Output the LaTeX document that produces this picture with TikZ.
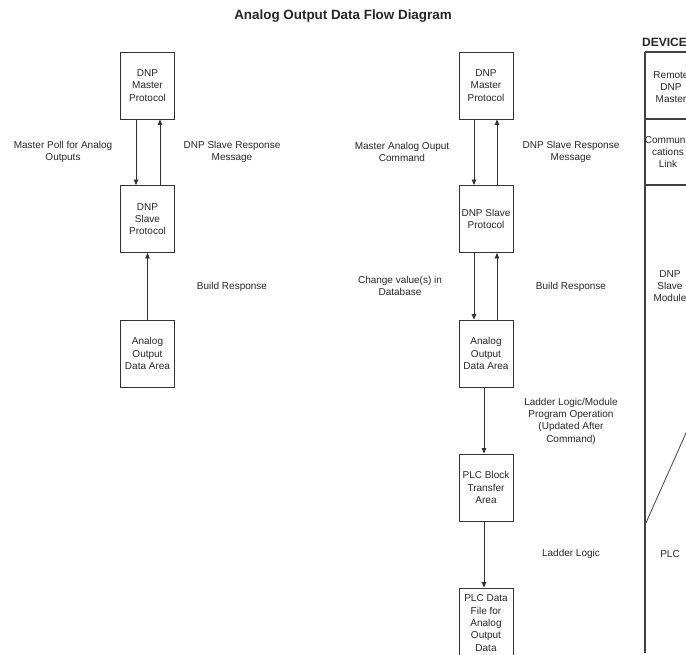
\documentclass[tikz,border=0pt]{standalone}
\usepackage{fontspec}
\setmainfont{Liberation Sans}
\usetikzlibrary{arrows.meta}

\begin{document}
\begin{tikzpicture}[x=1pt, y=-1pt, font=\fontsize{10}{12.3}\selectfont,
    every node/.style={text=black!85},
    block/.style={draw=black!80, line width=0.9pt, minimum width=54pt,
      minimum height=67pt, inner sep=1pt, align=center},
    flow/.style={draw=black!80, line width=0.8pt, -{Triangle[length=5.5pt,width=4.5pt]}},
    note/.style={align=center},
    rule/.style={draw=black!75, line width=1.2pt}]
  \useasboundingbox (0,0) rectangle (686,654);
  \clip (0,0) rectangle (686,654);

  \node[font=\fontsize{13.4}{15}\selectfont\bfseries] (title) at (343,16) {Analog Output Data Flow Diagram};

  % poll column
  \node[block] (pmaster) at (147.5,85.5) {DNP\\Master\\Protocol};
  \node[block] (pslave) at (147.5,219) {DNP\\Slave\\Protocol};
  \node[block] (parea) at (147.5,353.5) {Analog\\Output\\Data Area};

  \draw[flow] ([xshift=-11.5pt]pmaster.south) -- ([xshift=-11.5pt]pslave.north);
  \draw[flow] ([xshift=12.5pt]pslave.north) -- ([xshift=12.5pt]pmaster.south);
  \draw[flow] (parea) -- (pslave);

  \node[note] (ppoll) at (63,152) {Master Poll for Analog\\Outputs};
  \node[note] (presp) at (232,152) {DNP Slave Response\\Message};
  \node[note] (pbuild) at (232,287) {Build Response};

  % command column
  \node[block] (cmaster) at (486,85.5) {DNP\\Master\\Protocol};
  \node[block] (cslave) at (486,219) {DNP Slave\\Protocol};
  \node[block] (carea) at (486,353.5) {Analog\\Output\\Data Area};
  \node[block] (cbtr) at (486,487.5) {PLC Block\\Transfer\\Area};
  \node[block, minimum height=70pt] (cfile) at (486,623) {PLC Data\\File for\\Analog\\Output\\Data};

  \draw[flow] ([xshift=-12pt]cmaster.south) -- ([xshift=-12pt]cslave.north);
  \draw[flow] ([xshift=11pt]cslave.north) -- ([xshift=11pt]cmaster.south);
  \draw[flow] ([xshift=-12pt]cslave.south) -- ([xshift=-12pt]carea.north);
  \draw[flow] ([xshift=11pt]carea.north) -- ([xshift=11pt]cslave.south);
  \draw[flow] ([xshift=-2pt]carea.south) -- ([xshift=-2pt]cbtr.north);
  \draw[flow] ([xshift=-2pt]cbtr.south) -- ([xshift=-2pt]cfile.north);

  \node[note] (ccmd) at (402,152) {Master Analog Ouput\\Command};
  \node[note] (cresp) at (571,152) {DNP Slave Response\\Message};
  \node[note] (cchange) at (400,286) {Change value(s) in\\Database};
  \node[note] (cbuild) at (571,287) {Build Response};
  \node[note] (cladder) at (571,421) {Ladder Logic/Module\\Program Operation\\(Updated After\\Command)};
  \node[note] (cplc) at (571,554) {Ladder Logic};

  % device table
  \node[font=\fontsize{12}{14}\selectfont\bfseries, anchor=base west, inner sep=0pt] (device) at (642,46) {DEVICE};
  \draw[rule] (645,52) -- (645,653);
  \draw[rule] (645,52) -- (700,52);
  \draw[rule] (645,119) -- (700,119);
  \draw[rule] (645,185) -- (700,185);
  \draw[draw=black!75, line width=0.8pt] (645,525) -- (690,424);
  \node[note] (remote) at (671,87) {Remote\\DNP\\Master};
  \node[note] (link) at (668,152) {Communi-\\cations\\Link};
  \node[note] (module) at (670,286) {DNP\\Slave\\Module};
  \node[note] (plc) at (670,554) {PLC};
\end{tikzpicture}
\end{document}
